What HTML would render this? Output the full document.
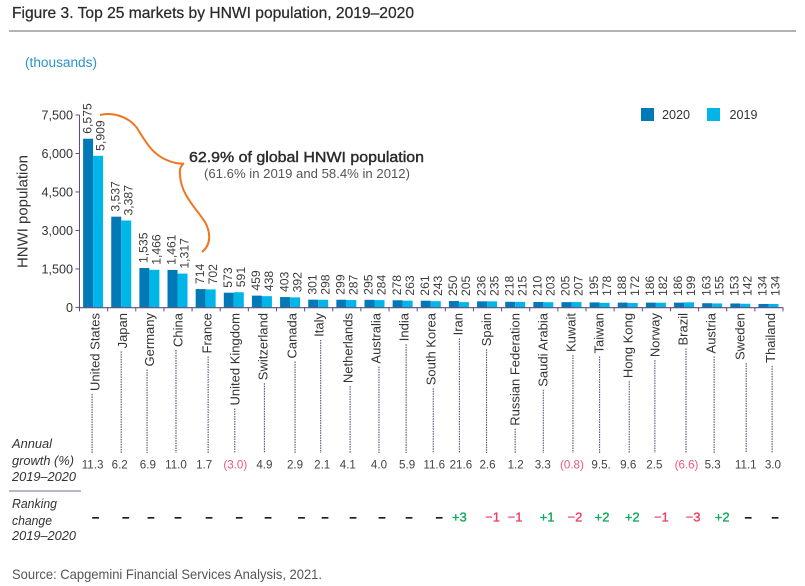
<!DOCTYPE html>
<html lang="en">
<head>
<meta charset="utf-8">
<title>Top 25 markets by HNWI population</title>
<style>
html,body{margin:0;padding:0;background:#fff;}
svg{display:block;font-family:"Liberation Sans",sans-serif;}
.num{font-size:12.2px;fill:#3a3a3a;}
</style>
</head>
<body>
<svg id="chart" width="805" height="586" viewBox="0 0 805 586" xmlns="http://www.w3.org/2000/svg">
  <rect width="805" height="586" fill="#ffffff"/>
  <text x="12" y="18" font-size="16" fill="#2b2b2b" stroke="#2b2b2b" stroke-width="0.25" textLength="402" lengthAdjust="spacingAndGlyphs">Figure 3. Top 25 markets by HNWI population, 2019–2020</text>
  <line x1="9" y1="31" x2="796" y2="31" stroke="#9a9a9a" stroke-width="1.5"/>
  <text x="25" y="67" font-size="13.5" fill="#2a93c9" textLength="72" lengthAdjust="spacingAndGlyphs">(thousands)</text>
  <text transform="translate(27.5,268) rotate(-90)" font-size="14.5" fill="#333" textLength="113" lengthAdjust="spacingAndGlyphs">HNWI population</text>

  <g>
    <rect x="641" y="108" width="13" height="13" fill="#0079b6"/>
    <text x="662" y="119" font-size="12.8" fill="#333" textLength="28" lengthAdjust="spacingAndGlyphs">2020</text>
    <rect x="707" y="108" width="13" height="13" fill="#00b6e9"/>
    <text x="729.5" y="119" font-size="12.8" fill="#333" textLength="28" lengthAdjust="spacingAndGlyphs">2019</text>
  </g>

  <g id="y-axis"></g>
  <g id="leaders"></g>
  <g id="bars"></g>
  <g id="bar-values"></g>
  <g id="x-axis"></g>
  <g id="growth"></g>
  <g id="rank"></g>

  <path d="M100,115 C112,112 128,116 137,128 C146,142 153,158 176,163 Q181,164 184,163.5 Q179,166 180,175 C181,195 196,208 205,222 C211,233 211,245 202,252" fill="none" stroke="#ee7623" stroke-width="2"/>
  <text x="189" y="162" font-size="14.5" fill="#2b2b2b" stroke="#2b2b2b" stroke-width="0.4" textLength="235" lengthAdjust="spacingAndGlyphs">62.9% of global HNWI population</text>
  <text x="204" y="178" font-size="13" fill="#555" textLength="206" lengthAdjust="spacingAndGlyphs">(61.6% in 2019 and 58.4% in 2012)</text>

  <g font-size="13" font-style="italic" fill="#333">
    <text x="12" y="448" textLength="40" lengthAdjust="spacingAndGlyphs">Annual</text>
    <text x="12" y="465" textLength="62" lengthAdjust="spacingAndGlyphs">growth (%)</text>
    <text x="12" y="481" textLength="64" lengthAdjust="spacingAndGlyphs">2019–2020</text>
  </g>
  <line x1="9" y1="491" x2="81" y2="491" stroke="#7b6a94" stroke-width="1"/>
  <g font-size="13" font-style="italic" fill="#333">
    <text x="12" y="508" textLength="45" lengthAdjust="spacingAndGlyphs">Ranking</text>
    <text x="12" y="525" textLength="40" lengthAdjust="spacingAndGlyphs">change</text>
    <text x="12" y="540" textLength="64" lengthAdjust="spacingAndGlyphs">2019–2020</text>
  </g>
  <text x="12" y="579" font-size="14" fill="#555" textLength="310" lengthAdjust="spacingAndGlyphs">Source: Capgemini Financial Services Analysis, 2021.</text>
</svg>
<script>
const categories = ["United States","Japan","Germany","China","France","United Kingdom","Switzerland","Canada","Italy","Netherlands","Australia","India","South Korea","Iran","Spain","Russian Federation","Saudi Arabia","Kuwait","Taiwan","Hong Kong","Norway","Brazil","Austria","Sweden","Thailand"];
const values2020 = [6575,3537,1535,1461,714,573,459,403,301,299,295,278,261,250,236,218,210,205,195,188,186,186,163,153,134];
const values2019 = [5909,3387,1466,1317,702,591,438,392,298,287,284,263,243,205,235,215,203,207,178,172,182,199,155,142,134];
const yTicks = [0,1500,3000,4500,6000,7500];
const growthLabels = ["11.3","6.2","6.9","11.0","1.7","(3.0)","4.9","2.9","2.1","4.1","4.0","5.9","11.6","21.6","2.6","1.2","3.3","(0.8)","9.5.","9.6","2.5","(6.6)","5.3","11.1","3.0"];
const rankLabels = ["–","–","–","–","–","–","–","–","–","–","–","–","–","+3","−1","−1","+1","−2","+2","+2","−1","−3","+2","–","–"];

const SVGNS = "http://www.w3.org/2000/svg";
const plotLeft = 79.5, plotRight = 783, plotBase = 307.4, plotTop = 115, yMax = 7500;
const bandW = (plotRight - plotLeft) / categories.length;
function xBand(i){ return plotLeft + bandW * i; }
function xCenter(i){ return xBand(i) + bandW / 2; }
function yScale(v){ return plotBase - (v / yMax) * (plotBase - plotTop); }
function make(tag, parent, attrs){
  const el = document.createElementNS(SVGNS, tag);
  for (const k in attrs) el.setAttribute(k, attrs[k]);
  parent.appendChild(el);
  return el;
}

/* hand-placement quirks of the original, relative to each band centre */
const nudgeLabel = [1.5,1,0,0,1,1,1,1.5,0.5,1.5,1,1,0,-1,-1,-0.5,-0.5,-1,-1,0,-1,-1.5,-1.5,-0.5,2];
const nudgeLeader = [-1.5,-0.5,-2.8,-2,2,0.5,2,4.5,2,3.3,4,3,2,0,-1,-0.5,-0.5,1,-0.5,1,-1.5,1.5,1.5,5.4,3.2];
const nudgeGrowth = [-1,-2,-2,-2,-2,1,2,4.5,3.5,1,4,4,3,1.5,0,0,-1,0,1,0,-2,2,0,5,4];
const nudgeRank = [2,4,1,0,3,5,5.7,11,6.4,6.3,7,6,8,0,5,-0.6,3.3,3,2,4,5,8.6,9.5,7.4,6.2];

const yAxisG = document.getElementById("y-axis");
const axisLine = make("line", yAxisG, {x1:plotLeft,x2:plotLeft,y1:yScale(yMax),y2:plotBase,stroke:"#5f4b7d","stroke-width":1});


yTicks.forEach(function(t){
  const tick = make("line", yAxisG, {x1:plotLeft-4,x2:plotLeft,y1:yScale(t),y2:yScale(t),stroke:"#5f4b7d","stroke-width":1});
  
  
  const lab = make("text", yAxisG, {x:plotLeft-6.5,y:yScale(t)+4.5,"text-anchor":"end","font-size":12.6,fill:"#333"});
  
  
  lab.textContent = t.toLocaleString("en-US");
});

const barW = 10;
const barsG = document.getElementById("bars");
const valuesG = document.getElementById("bar-values");
function valueLabel(v, cx){
  const bottom = Math.min(yScale(v) - 5, 296);
  const t = make("text", valuesG, {class:"num",transform:"translate("+(cx+4.2)+","+bottom+") rotate(-90)"});
  
  
  t.textContent = v.toLocaleString("en-US");
}
categories.forEach(function(c, i){
  const x0 = xBand(i) + 3.6;
  const a = make("rect", barsG, {x:x0,y:yScale(values2020[i]),width:barW,height:plotBase-yScale(values2020[i]),fill:"#0079b6"});
  
  
  const b = make("rect", barsG, {x:x0+barW,y:yScale(values2019[i]),width:barW,height:plotBase-yScale(values2019[i]),fill:"#00b6e9"});
  
  
  valueLabel(values2020[i], x0 + barW/2 - 1);
  valueLabel(values2019[i], x0 + barW*1.5 + 2);
});

const xAxisG = document.getElementById("x-axis");
const xLine = make("line", xAxisG, {x1:plotLeft,x2:plotRight,y1:plotBase+0.3,y2:plotBase+0.3,stroke:"#5f4b7d","stroke-width":1.2});


for (let i = 0; i <= categories.length; i++){
  const tk = make("line", xAxisG, {x1:xBand(i),x2:xBand(i),y1:plotBase,y2:plotBase+4,stroke:"#5f4b7d","stroke-width":1});
  
  
}

const leadersG = document.getElementById("leaders");
categories.forEach(function(c, i){
  const cx = xCenter(i) + nudgeLabel[i];
  const t = make("text", xAxisG, {transform:"translate("+(cx+4.3)+",313) rotate(-90)","text-anchor":"end","font-size":13,fill:"#333"});
  
  
  t.textContent = c;
  const len = t.getComputedTextLength();
  const lx = xCenter(i) + nudgeLeader[i];
  const d = make("line", leadersG, {x1:lx,x2:lx,y1:313+len+3,y2:453,stroke:"#5f4b7d","stroke-width":1.1,"stroke-dasharray":"1.5 1"});
  
  

  const g = make("text", document.getElementById("growth"), {x:xCenter(i)+nudgeGrowth[i],y:468.5,"text-anchor":"middle","font-size":11.6,fill:growthLabels[i].charAt(0)==="("?"#f0567a":"#444"});
  
  
  g.textContent = growthLabels[i];

  const r = rankLabels[i];
  const col = r.charAt(0)==="+" ? "#0aa858" : (r.charAt(0)==="−" ? "#ee3b63" : "#111");
  const rt = make("text", document.getElementById("rank"), {x:xCenter(i)+nudgeRank[i],y:521.5,"text-anchor":"middle","font-size":13,"font-weight":r==="–"?"bold":"normal",fill:col,stroke:col,"stroke-width":0.3});
  
  
  rt.textContent = r;
});
</script>
</body>
</html>
